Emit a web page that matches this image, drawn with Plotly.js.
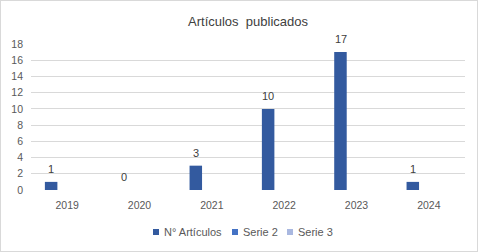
<!DOCTYPE html>
<html><head><meta charset="utf-8">
<script src="https://cdn.plot.ly/plotly-3.0.1.min.js"></script>
<style>html,body{margin:0;padding:0;background:#fff}#c{width:478px;height:252px;box-sizing:border-box;border:1px solid #D9D9D9}</style>
</head><body><div id="c"><div id="p"></div></div>
<script>
const categories = ["2019","2020","2021","2022","2023","2024"];
const articulos = [1,0,3,10,17,1];
const serie2 = [null,null,null,null,null,null];
const serie3 = [null,null,null,null,null,null];
const seriesNames = ["N° Artículos","Serie 2","Serie 3"];
const seriesColors = ["#335A9F","#4472C4","#A9B8E0"];
const yTicks = [0,2,4,6,8,10,12,14,16,18];

const font = "Liberation Sans, Arial, sans-serif";
const W = 476, H = 250;
const M = {l:30, r:12, t:43, b:61};
const pw = W - M.l - M.r, ph = H - M.t - M.b;
const px2x = p => (p - M.l) / pw;
const py2y = p => (H - M.b - p) / ph;

const traces = [
  {type:"bar", name:seriesNames[0], x:categories, y:articulos, marker:{color:seriesColors[0], line:{width:0}}},
  {type:"bar", name:seriesNames[1], x:categories, y:serie2, marker:{color:seriesColors[1], line:{width:0}}},
  {type:"bar", name:seriesNames[2], x:categories, y:serie3, marker:{color:seriesColors[2], line:{width:0}}}
];

// data labels above the first series' bars (x given as category index)
const annotations = categories.map((c, i) => ({
  x: i, y: articulos[i], xref:"x", yref:"y", text: String(articulos[i]),
  showarrow:false, xshift:-16, yshift:13, yanchor:"middle",
  font:{size:11, color:"#404040", family:font}
}));

// compact legend (Excel style)
const legendX = [153, 232, 287];
const legendY = 232;
const shapes = [];
seriesNames.forEach((n, i) => {
  const x0 = legendX[i] - 1, yc = legendY - 1;
  shapes.push({type:"rect", xref:"paper", yref:"paper",
    x0:px2x(x0), x1:px2x(x0+6), y0:py2y(yc+3), y1:py2y(yc-3),
    fillcolor:seriesColors[i], line:{width:0}});
  annotations.push({xref:"paper", yref:"paper", x:px2x(x0+9), y:py2y(yc),
    xanchor:"left", yanchor:"middle", text:n, showarrow:false,
    font:{size:11, color:"#595959", family:font}});
});

const layout = {
  width:W, height:H,
  margin:{l:M.l, r:M.r, t:M.t, b:M.b, autoexpand:false},
  paper_bgcolor:"#fff", plot_bgcolor:"#fff",
  font:{family:font, size:11, color:"#595959"},
  title:{text:"Artículos  publicados", font:{size:13, color:"#404040", family:font},
    x:0.5, xref:"paper", xanchor:"center", y:1-20/H, yanchor:"middle"},
  barmode:"group", bargap:0.335, bargroupgap:0.22,
  showlegend:false,
  annotations: annotations,
  shapes: shapes,
  xaxis:{type:"category", range:[-0.5, categories.length-0.5], autorange:false, showgrid:false, showline:false, ticks:"", tickfont:{size:10.5,color:"#595959"}, ticklabelstandoff:7},
  yaxis:{range:[0,18], tickvals:yTicks, showgrid:true, gridcolor:"#D9D9D9", gridwidth:1, zeroline:false, showline:false, ticks:"", tickfont:{size:10.5,color:"#595959"}, ticklabelstandoff:7}
};
Plotly.newPlot("p", traces, layout, {displayModeBar:false, staticPlot:true});
</script></body></html>
